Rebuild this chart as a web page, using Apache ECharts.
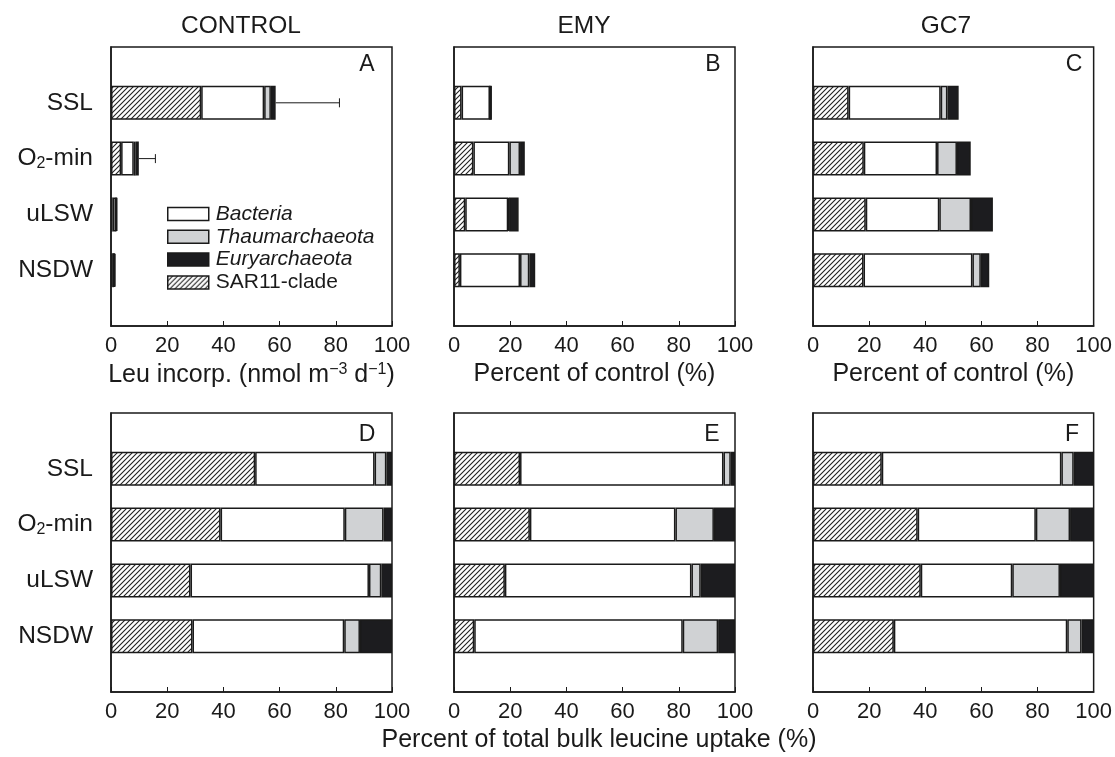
<!DOCTYPE html>
<html>
<head>
<meta charset="utf-8">
<script src="https://cdn.jsdelivr.net/npm/echarts@6/dist/echarts.min.js"></script>
<style>
html,body{margin:0;padding:0;background:#fff;}
#chart{width:1115px;height:757px;}
</style>
</head>
<body>
<div id="chart"></div>
<script>
// ---- data ----
const categories = ['SSL', 'O2-min', 'uLSW', 'NSDW'];
const seriesNames = ['SAR11-clade', 'Bacteria', 'Thaumarchaeota', 'Euryarchaeota'];
const columnTitles = ['CONTROL', 'EMY', 'GC7'];
const panelLetters = ['A', 'B', 'C', 'D', 'E', 'F'];
const xTicks = [0, 20, 40, 60, 80, 100];

// Panel A: Leu incorporation (nmol m-3 d-1), stacked segments
const A_sar11 = [32.1, 3.6, 0.6, 0.4];
const A_bact  = [22.4, 4.5, 1.2, 0.7];
const A_thaum = [2.4, 0.7, 0.1, 0.1];
const A_eury  = [1.7, 1.1, 0.3, 0.4];
const A_err   = [81.3, 15.8, null, null];
// Panel B: EMY, percent of control
const B_sar11 = [2.7, 6.9, 4.0, 2.1];
const B_bact  = [10.1, 12.8, 15.3, 21.4];
const B_thaum = [0.0, 3.8, 0.3, 3.3];
const B_eury  = [0.7, 1.7, 3.4, 2.1];
// Panel C: GC7, percent of control
const C_sar11 = [12.7, 18.1, 18.8, 18.0];
const C_bact  = [32.8, 26.1, 26.2, 38.8];
const C_thaum = [2.4, 7.1, 11.3, 3.0];
const C_eury  = [4.0, 4.9, 7.8, 3.0];
// Panel D: CONTROL, percent of total bulk leucine uptake
const D_sar11 = [51.3, 39.0, 28.3, 29.0];
const D_bact  = [42.5, 44.2, 63.5, 54.0];
const D_thaum = [4.2, 13.8, 4.4, 5.6];
const D_eury  = [2.0, 3.0, 3.8, 11.4];
// Panel E: EMY
const E_sar11 = [23.5, 27.0, 18.1, 7.2];
const E_bact  = [72.4, 51.8, 66.4, 74.2];
const E_thaum = [2.6, 13.7, 3.3, 12.6];
const E_eury  = [1.5, 7.5, 12.2, 6.0];
// Panel F: GC7
const F_sar11 = [24.5, 37.3, 38.4, 28.8];
const F_bact  = [64.0, 42.1, 32.6, 61.8];
const F_thaum = [4.4, 12.2, 17.0, 5.1];
const F_eury  = [7.1, 8.4, 12.0, 4.3];

const panels = [
  [A_sar11, A_bact, A_thaum, A_eury],
  [B_sar11, B_bact, B_thaum, B_eury],
  [C_sar11, C_bact, C_thaum, C_eury],
  [D_sar11, D_bact, D_thaum, D_eury],
  [E_sar11, E_bact, E_thaum, E_eury],
  [F_sar11, F_bact, F_thaum, F_eury]
];

// ---- styling / layout ----
const FONT = '"Liberation Sans", Arial, Helvetica, sans-serif';
const INK = '#1a1a1a';
const GRAY = '#d0d2d4';
const BLACK = '#1c1c1f';
const TICK_FS = 22, LABEL_FS = 24.5, NAME_FS = 25, LEGEND_FS = 21, LETTER_FS = 23;

function hatchPattern() {
  const s = 5;
  const c = document.createElement('canvas');
  c.width = s; c.height = s;
  const ctx = c.getContext('2d');
  ctx.fillStyle = '#fff';
  ctx.fillRect(0, 0, s, s);
  ctx.strokeStyle = '#222';
  ctx.lineWidth = 1.1;
  ctx.beginPath();
  ctx.moveTo(0, s); ctx.lineTo(s, 0);
  ctx.moveTo(-1, 1); ctx.lineTo(1, -1);
  ctx.moveTo(s - 1, s + 1); ctx.lineTo(s + 1, s - 1);
  ctx.stroke();
  return { image: c, repeat: 'repeat' };
}
const fills = [hatchPattern(), '#ffffff', GRAY, BLACK];

const colLeft = [111, 454, 813];
const colWidth = 281;
const rowTop = [47, 413];
const rowHeight = 279;

const yData = [''].concat(categories, ['']);
function pad(arr) { return [null].concat(arr, [null]); }

const grids = [], xAxes = [], yAxes = [], series = [];
for (let p = 0; p < 6; p++) {
  const col = p % 3, row = Math.floor(p / 3);
  grids.push({
    left: colLeft[col], top: rowTop[row], width: colWidth, height: rowHeight,
    show: true, borderColor: INK, borderWidth: 1.5, backgroundColor: 'transparent'
  });
  const xa = {
    type: 'value', gridIndex: p, min: xTicks[0], max: xTicks[xTicks.length - 1], interval: 20,
    axisLine: { show: true, lineStyle: { color: INK, width: 1.5 } },
    axisTick: { show: true, inside: true, length: 5, lineStyle: { color: INK, width: 1 } },
    splitLine: { show: false },
    axisLabel: { fontSize: TICK_FS, color: INK, fontFamily: FONT, margin: 9 }
  };
  if (p === 0) {
    xa.name = '{n|Leu incorp. (nmol m}{s|\u22123}{n| d}{s|\u22121}{n|)}';
    xa.nameLocation = 'middle';
    xa.nameGap = 36;
    xa.nameTextStyle = {
      rich: {
        n: { fontSize: NAME_FS, color: INK, fontFamily: FONT },
        s: { fontSize: 16, color: INK, fontFamily: FONT, verticalAlign: 'top', padding: [0, 0, 11, 0] }
      }
    };
  } else if (p === 1 || p === 2) {
    xa.name = 'Percent of control (%)';
    xa.nameLocation = 'middle';
    xa.nameGap = 36;
    xa.nameTextStyle = { fontSize: NAME_FS, color: INK, fontFamily: FONT };
  }
  xAxes.push(xa);
  yAxes.push({
    type: 'category', gridIndex: p, data: yData, inverse: true, boundaryGap: false,
    axisLine: { show: true, lineStyle: { color: INK, width: 1.5 } },
    axisTick: { show: false },
    axisLabel: {
      show: col === 0, margin: 18, fontSize: LABEL_FS, color: INK, fontFamily: FONT,
      formatter: function (v) {
        if (v === 'O2-min') return '{n|O}{b|2}{n|-min}';
        return '{n|' + v + '}';
      },
      rich: {
        n: { fontSize: LABEL_FS, color: INK, fontFamily: FONT },
        b: { fontSize: 16, color: INK, fontFamily: FONT, verticalAlign: 'bottom', padding: [10, 0, 0, 0] }
      }
    }
  });
  for (let s = 0; s < 4; s++) {
    series.push({
      type: 'bar', name: seriesNames[s], xAxisIndex: p, yAxisIndex: p,
      stack: 'st' + p, barWidth: 34, silent: true,
      itemStyle: { color: fills[s], borderColor: INK, borderWidth: 1.5 },
      data: pad(panels[p][s])
    });
  }
}

// error bars for panel A
const errData = [];
categories.forEach(function (c, i) {
  if (A_err[i] == null) return;
  const total = A_sar11[i] + A_bact[i] + A_thaum[i] + A_eury[i];
  errData.push([total, A_err[i], i + 1]);
});
series.push({
  type: 'custom', xAxisIndex: 0, yAxisIndex: 0, silent: true, z: 1,
  encode: { x: [0, 1], y: 2 },
  data: errData,
  renderItem: function (params, api) {
    const a = api.coord([api.value(0), api.value(2)]);
    const b = api.coord([api.value(1), api.value(2)]);
    const st = { stroke: INK, lineWidth: 1 };
    return {
      type: 'group',
      children: [
        { type: 'line', shape: { x1: a[0], y1: a[1], x2: b[0], y2: b[1] }, style: st },
        { type: 'line', shape: { x1: b[0], y1: b[1] - 4.5, x2: b[0], y2: b[1] + 4.5 }, style: st }
      ]
    };
  }
});

const titleX = [241, 584, 946];
const letterPos = [[367, 65], [713, 65], [1074, 65], [367, 435], [712, 435], [1072, 435]];
const graphics = [];
columnTitles.forEach(function (t, i) {
  graphics.push({ type: 'text', x: titleX[i], y: 26, style: {
    text: t, fontSize: LABEL_FS, fill: INK, fontFamily: FONT, align: 'center', verticalAlign: 'middle' } });
});
panelLetters.forEach(function (t, i) {
  graphics.push({ type: 'text', x: letterPos[i][0], y: letterPos[i][1], style: {
    text: t, fontSize: LETTER_FS, fill: INK, fontFamily: FONT, align: 'center', verticalAlign: 'middle' } });
});
graphics.push({ type: 'text', x: 599, y: 740, style: {
  text: 'Percent of total bulk leucine uptake (%)', fontSize: NAME_FS, fill: INK, fontFamily: FONT,
  align: 'center', verticalAlign: 'middle' } });

const chart = echarts.init(document.getElementById('chart'), null, { renderer: 'canvas' });
chart.setOption({
  animation: false,
  backgroundColor: '#fff',
  legend: {
    orient: 'vertical', left: 167, top: 203.5,
    itemWidth: 41, itemHeight: 13, itemGap: 0, padding: 0,
    icon: 'rect', selectedMode: false,
    data: ['Bacteria', 'Thaumarchaeota', 'Euryarchaeota', 'SAR11-clade'],
    formatter: function (name) {
      return name === 'SAR11-clade' ? '{n|' + name + '}' : '{i|' + name + '}';
    },
    textStyle: {
      padding: [0, 0, 0, 2],
      rich: {
        n: { fontSize: LEGEND_FS, lineHeight: 22.6, color: INK, fontFamily: FONT },
        i: { fontSize: LEGEND_FS, lineHeight: 22.6, color: INK, fontFamily: FONT, fontStyle: 'italic' }
      }
    },
    itemStyle: { borderColor: INK, borderWidth: 1.5 }
  },
  grid: grids, xAxis: xAxes, yAxis: yAxes, series: series, graphic: graphics
});
// adjust legend spacing to the reference row pitch
chart.setOption({ legend: { itemGap: 1.8 } });
</script>
</body>
</html>
